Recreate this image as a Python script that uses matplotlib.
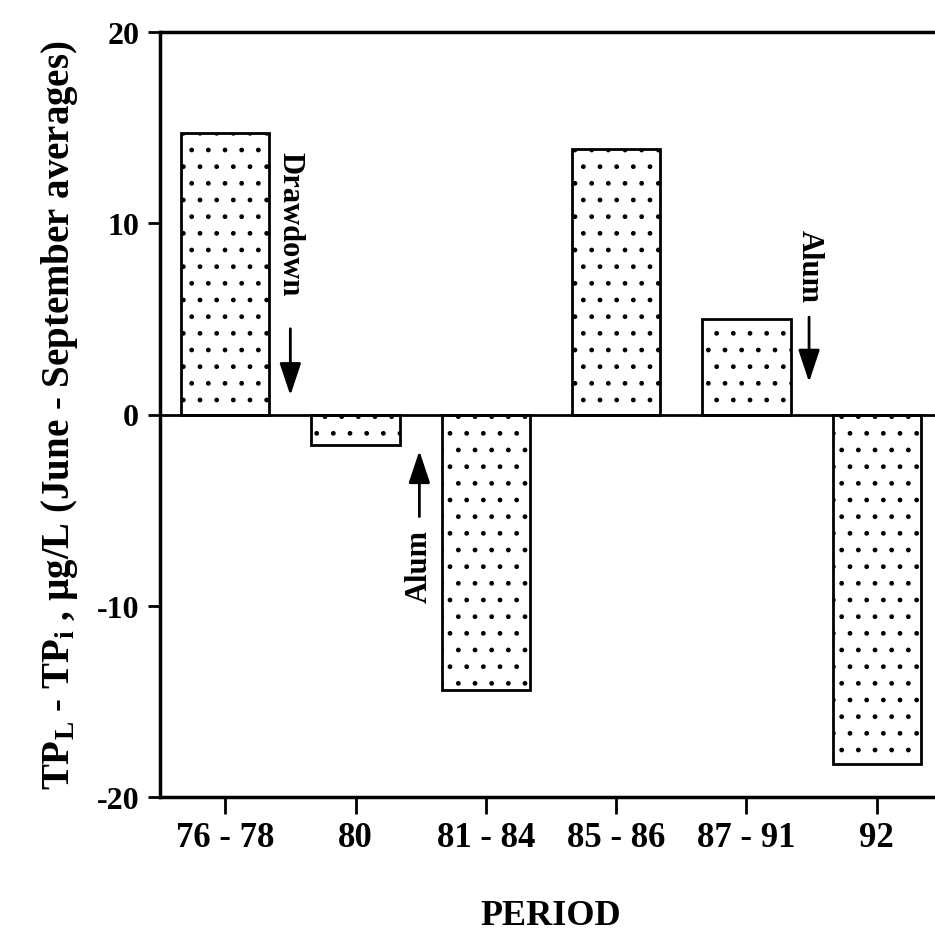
import numpy as np
import matplotlib
matplotlib.use("Agg")
from matplotlib import pyplot as plt

# data
periods = ["76 - 78", "80", "81 - 84", "85 - 86", "87 - 91", "92"]
diff = [14.7, -1.6, -14.4, 13.9, 5.0, -18.3]
yticks = [-20, -10, 0, 10, 20]

plt.rcParams['font.family'] = ['Liberation Serif', 'DejaVu Serif']
plt.rcParams['font.weight'] = 'bold'
plt.rcParams['axes.unicode_minus'] = False
plt.rcParams['mathtext.fontset'] = 'custom'
plt.rcParams['mathtext.rm'] = 'Liberation Serif:bold'
plt.rcParams['mathtext.bf'] = 'Liberation Serif:bold'
plt.rcParams['mathtext.it'] = 'Liberation Serif:bold'
plt.rcParams['hatch.linewidth'] = 1.0

fig = plt.figure(figsize=(9.35, 9.37), dpi=100)
ax = fig.add_axes([160/935, 1 - 798/937, 782/935, 765/937])

x = np.arange(len(periods))
ax.bar(x, diff, width=0.68, color='white', edgecolor='black',
       linewidth=2, hatch='.', zorder=2)
ax.axhline(0, color='black', lw=2, zorder=3)

ax.set_xlim(-0.5, 5.5)
ax.set_ylim(-20, 20)
ax.set_xticks(x)
ax.set_xticklabels(periods)
ax.set_yticks(yticks)
ax.tick_params(axis='x', length=12, width=2, labelsize=25, pad=5)
ax.tick_params(axis='y', length=9, width=2, labelsize=23, pad=6)
for s in ['left', 'top', 'bottom']:
    ax.spines[s].set_linewidth(2.5)
ax.spines['right'].set_visible(False)

ax.set_ylabel("TP$_\\mathrm{L}$ - TP$_\\mathrm{i}$ , µg/L (June - September averages)",
              fontsize=28, fontweight='bold', labelpad=12)
ax.set_xlabel("PERIOD", fontsize=26, fontweight='bold', labelpad=33)

# event annotations
def arrow(gap):
    return dict(arrowstyle='-|>,head_length=0.9,head_width=0.3', color='black', lw=2,
                shrinkA=gap, shrinkB=0)

ax.annotate("Drawdown", xy=(0.5, 1.0), xytext=(0.5, 10.0), rotation=-90,
            ha='center', va='center', fontsize=22, fontweight='bold', arrowprops=arrow(22))
ax.annotate("Alum", xy=(1.49, -1.9), xytext=(1.49, -7.9), rotation=90,
            ha='center', va='center', fontsize=22, fontweight='bold', arrowprops=arrow(7))
ax.annotate("Alum", xy=(4.48, 1.7), xytext=(4.48, 7.8), rotation=-90,
            ha='center', va='center', fontsize=22, fontweight='bold', arrowprops=arrow(9))

fig.savefig("out.png", dpi=100)
